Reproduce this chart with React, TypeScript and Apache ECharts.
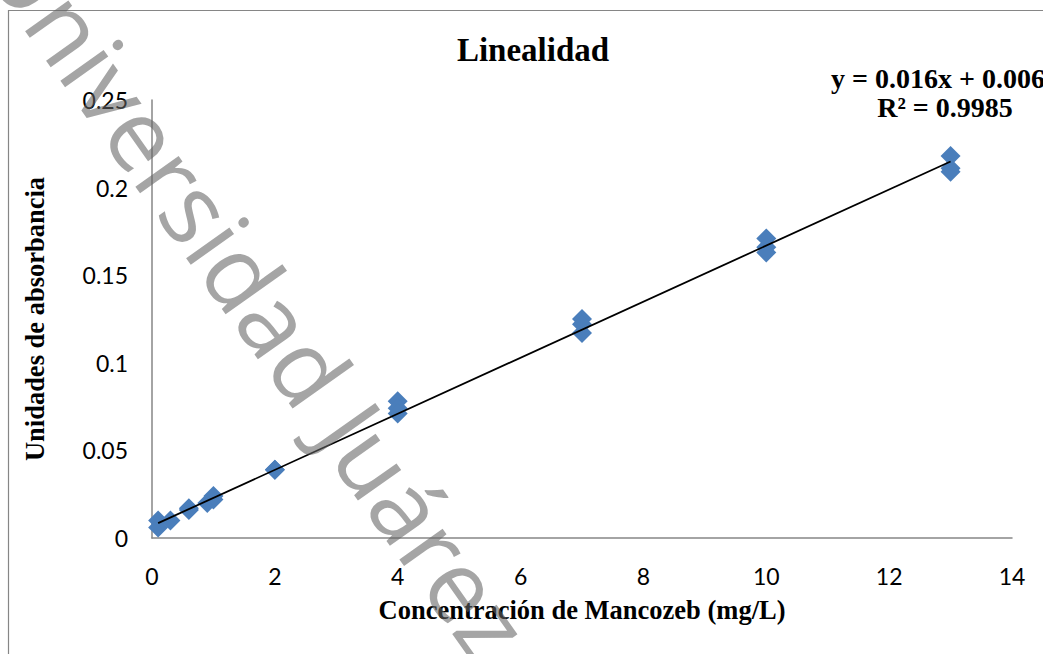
import React, { useEffect, useRef } from "react";
import * as echarts from "echarts";

const concentrations = [0.1, 0.1, 0.3, 0.6, 0.6, 0.9, 1, 1, 2, 2, 4, 4, 4, 7, 7, 7, 10, 10, 10, 13, 13, 13];
const absorbances = [0.010, 0.006, 0.010, 0.016, 0.017, 0.020, 0.022, 0.024, 0.039, 0.039, 0.078, 0.074, 0.071, 0.125, 0.122, 0.117, 0.171, 0.166, 0.163, 0.218, 0.211, 0.209];
const trendSlope = 0.016;
const trendIntercept = 0.0069;
const trendRange = [0.1, 13];
const xTicks = [0, 2, 4, 6, 8, 10, 12, 14];
const yTicks = [0, 0.05, 0.1, 0.15, 0.2, 0.25];

const SERIF = "'Liberation Serif', 'Times New Roman', serif";
const SANS = "Lato, 'Open Sans', sans-serif";

export default function App() {
  const ref = useRef<HTMLDivElement>(null);
  useEffect(() => {
    document.body.style.margin = "0";
    if (!ref.current) return;
    const chart = echarts.init(ref.current, null, { renderer: "svg" });
    const points = concentrations.map((c, i) => [c, absorbances[i]]);
    const trend = trendRange.map((x) => [x, trendSlope * x + trendIntercept]);
    chart.setOption({
      animation: false,
      backgroundColor: "#ffffff",
      grid: { left: 152, right: 31, top: 100, bottom: 116, containLabel: false },
      xAxis: {
        type: "value",
        min: xTicks[0],
        max: xTicks[xTicks.length - 1],
        interval: 2,
        name: "Concentración de Mancozeb (mg/L)",
        nameLocation: "middle",
        nameGap: 58,
        nameTextStyle: { fontFamily: SERIF, fontWeight: "bold", fontSize: 26.5, color: "#000" },
        axisLine: { show: true, lineStyle: { color: "#868686", width: 1.5 } },
        axisTick: { show: false },
        splitLine: { show: false },
        axisLabel: { fontFamily: SANS, fontSize: 23, color: "#000", margin: 26 },
      },
      yAxis: {
        type: "value",
        min: yTicks[0],
        max: yTicks[yTicks.length - 1],
        interval: 0.05,
        name: "Unidades de absorbancia",
        nameLocation: "middle",
        nameRotate: 90,
        nameGap: 104,
        nameTextStyle: { fontFamily: SERIF, fontWeight: "bold", fontSize: 26.5, color: "#000" },
        axisLine: { show: true, lineStyle: { color: "#868686", width: 1.5 } },
        axisTick: { show: false },
        splitLine: { show: false },
        axisLabel: { fontFamily: SANS, fontSize: 23, color: "#000", margin: 24 },
      },
      title: {
        text: "Linealidad",
        left: 528,
        top: 28,
        textAlign: "center",
        textStyle: { fontFamily: SERIF, fontWeight: "bold", fontSize: 33, color: "#000" },
      },
      graphic: [
        {
          type: "rect",
          shape: { x: 8.5, y: 10.5, width: 1200, height: 800 },
          style: { fill: "none", stroke: "#868686", lineWidth: 1.2 },
          silent: true,
          z: 0,
        },
        {
          type: "text",
          x: 945,
          y: 78,
          style: {
            text: "y = 0.016x + 0.0069",
            fontFamily: SERIF,
            fontWeight: "bold",
            fontSize: 28,
            fill: "#000",
            textAlign: "center",
            textVerticalAlign: "middle",
          },
          z: 10,
        },
        {
          type: "text",
          x: 945,
          y: 107,
          style: {
            text: "R² = 0.9985",
            fontFamily: SERIF,
            fontWeight: "bold",
            fontSize: 28,
            fill: "#000",
            textAlign: "center",
            textVerticalAlign: "middle",
          },
          z: 10,
        },
        {
          type: "text",
          x: 10,
          y: -57,
          rotation: -0.955,
          style: {
            text: "Universidad Juárez",
            fontFamily: "'Open Sans', Lato, sans-serif",
            fontSize: 99,
            fill: "rgba(100,100,100,0.58)",
            textAlign: "left",
            textVerticalAlign: "middle",
          },
          silent: true,
          z: 100,
        },
      ],
      series: [
        {
          type: "scatter",
          data: points,
          symbol: "diamond",
          symbolSize: [20, 20],
          itemStyle: { color: "#4a7ebb", opacity: 1 },
          z: 2,
        },
        {
          type: "line",
          data: trend,
          symbol: "none",
          lineStyle: { color: "#000", width: 1.8 },
          z: 3,
        },
      ],
    });
    return () => chart.dispose();
  }, []);
  return <div ref={ref} style={{ width: 1043, height: 654 }} />;
}
